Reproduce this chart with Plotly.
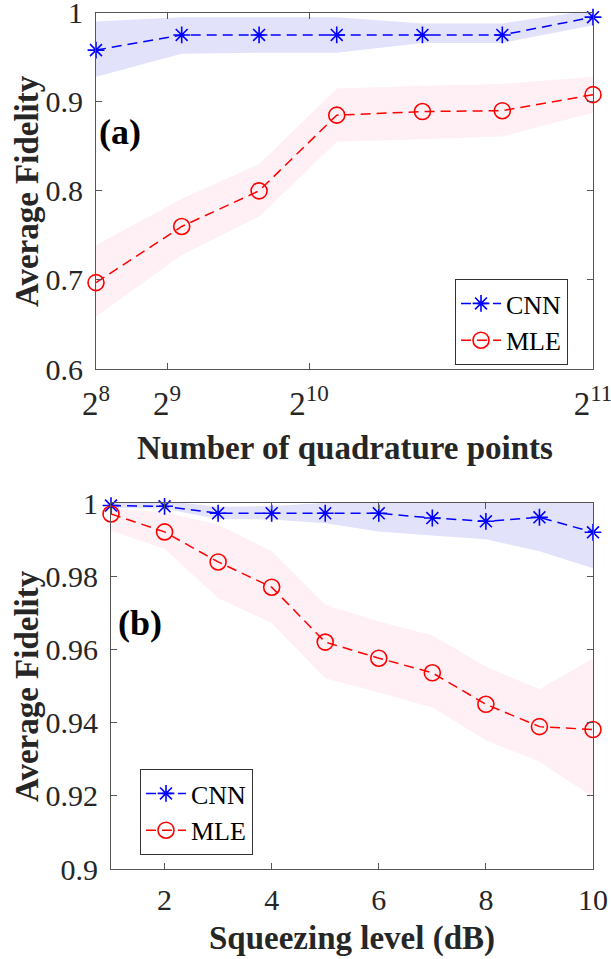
import plotly.graph_objects as go

# ---------------- data ----------------
# panel (a)
quad_points = [256, 565, 844, 1124, 1433, 1721, 2048]
cnn_a = [0.958, 0.975, 0.975, 0.975, 0.975, 0.975, 0.995]
cnn_a_upper = [0.990, 0.995, 0.995, 0.995, 0.988, 0.988, 1.003]
cnn_a_lower = [0.928, 0.954, 0.955, 0.955, 0.966, 0.966, 0.986]
mle_a = [0.697, 0.760, 0.800, 0.885, 0.889, 0.890, 0.908]
mle_a_upper = [0.739, 0.791, 0.830, 0.915, 0.918, 0.920, 0.928]
mle_a_lower = [0.659, 0.728, 0.771, 0.855, 0.858, 0.861, 0.888]

# panel (b)
squeeze_db = [1, 2, 3, 4, 5, 6, 7, 8, 9, 10]
cnn_b = [0.9993, 0.9991, 0.9972, 0.9972, 0.9972, 0.9972, 0.9959, 0.9950, 0.9961, 0.9920]
cnn_b_upper = [1.0005, 1.0005, 0.9990, 0.9992, 1.0000, 1.0005, 1.0005, 1.0005, 1.0010, 1.0020]
cnn_b_lower = [0.9986, 0.9984, 0.9956, 0.9955, 0.9945, 0.9922, 0.9911, 0.9901, 0.9868, 0.9822]
mle_b = [0.9970, 0.9921, 0.9839, 0.9770, 0.9620, 0.9576, 0.9536, 0.9450, 0.9389, 0.9381]
mle_b_upper = [0.9986, 0.9974, 0.9941, 0.9868, 0.9722, 0.9676, 0.9638, 0.9553, 0.9491, 0.9576]
mle_b_lower = [0.9924, 0.9875, 0.9740, 0.9672, 0.9521, 0.9482, 0.9441, 0.9352, 0.9293, 0.9197]

xticks_a = [256, 512, 1024, 2048]
xticklabels_a = ["2<sup>8</sup>", "2<sup>9</sup>", "2<sup>10</sup>", "2<sup>11</sup>"]
yticks_a = [0.6, 0.7, 0.8, 0.9, 1.0]
yticklabels_a = ["0.6", "0.7", "0.8", "0.9", "1"]
xticks_b = [2, 4, 6, 8, 10]
yticks_b = [0.9, 0.92, 0.94, 0.96, 0.98, 1.0]
yticklabels_b = ["0.9", "0.92", "0.94", "0.96", "0.98", "1"]

# ---------------- styling ----------------
W, H = 611, 959
FONT = "'Times New Roman', 'Liberation Serif', Tinos, serif"
BLUE = "rgb(0,0,255)"
RED = "rgb(255,0,0)"
BAND_BLUE = "rgb(226,226,251)"
BAND_RED = "rgb(254,240,245)"
AX = "#555555"

fig = go.Figure()


def band(x, lo, hi, color, xa, ya):
    fig.add_trace(go.Scatter(
        x=list(x) + list(x)[::-1], y=list(hi) + list(lo)[::-1],
        fill="toself", fillcolor=color, mode="none",
        showlegend=False, hoverinfo="skip", xaxis=xa, yaxis=ya))


def series(x, y, name, color, symbol, size, xa, ya, legend):
    fig.add_trace(go.Scatter(
        x=x, y=y, name=name, mode="lines+markers",
        line=dict(color=color, width=1.5, dash="10px,6px"),
        marker=dict(symbol=symbol, size=size, color=color,
                    line=dict(color=color, width=1.6)),
        cliponaxis=False, xaxis=xa, yaxis=ya, legend=legend))


band(quad_points, cnn_a_lower, cnn_a_upper, BAND_BLUE, "x", "y")
band(quad_points, mle_a_lower, mle_a_upper, BAND_RED, "x", "y")
series(quad_points, cnn_a, "CNN", BLUE, "asterisk-open", 14, "x", "y", "legend")
series(quad_points, mle_a, "MLE", RED, "circle-open", 16, "x", "y", "legend")

band(squeeze_db, cnn_b_lower, cnn_b_upper, BAND_BLUE, "x2", "y2")
band(squeeze_db, mle_b_lower, mle_b_upper, BAND_RED, "x2", "y2")
series(squeeze_db, cnn_b, "CNN", BLUE, "asterisk-open", 14, "x2", "y2", "legend2")
series(squeeze_db, mle_b, "MLE", RED, "circle-open", 16, "x2", "y2", "legend2")


def px(x):
    return x / W


def py(y):
    return 1 - y / H


axis_common = dict(showline=True, linecolor=AX, linewidth=1, mirror="ticks",
                   ticks="inside", ticklen=6, tickcolor=AX, tickwidth=1,
                   showgrid=False, zeroline=False, automargin=False,
                   ticklabeloverflow="allow")
tickfont = dict(family=FONT, size=30, color="#262626")

fig.update_layout(
    width=W, height=H, autosize=False,
    margin=dict(l=0, r=0, t=0, b=0, pad=0, autoexpand=False),
    paper_bgcolor="white", plot_bgcolor="white",
    font=dict(family=FONT, color="#262626"),
    xaxis=dict(domain=[px(96), px(593)], range=[256, 2048], anchor="y",
               tickvals=xticks_a, ticktext=xticklabels_a, ticklabelstandoff=5,
               tickfont=dict(family=FONT, size=33, color="#262626"), **axis_common),
    yaxis=dict(domain=[py(369), py(12.7)], range=[0.6, 1.0], anchor="x",
               tickvals=yticks_a, ticktext=yticklabels_a, ticklabelstandoff=6,
               tickfont=tickfont, **axis_common),
    xaxis2=dict(domain=[px(111), px(593)], range=[1, 10], anchor="y2",
                tickvals=xticks_b, ticklabelstandoff=4, tickfont=tickfont, **axis_common),
    yaxis2=dict(domain=[py(869), py(503)], range=[0.9, 1.0], anchor="x2",
                tickvals=yticks_b, ticktext=yticklabels_b, ticklabelstandoff=6,
                tickfont=tickfont, **axis_common),
    legend=dict(x=px(568), y=py(279), xanchor="right", yanchor="top",
                bordercolor="#333333", borderwidth=1, bgcolor="white",
                font=dict(family=FONT, size=26, color="black"),
                tracegroupgap=0, itemwidth=40),
    legend2=dict(x=px(140), y=py(769), xanchor="left", yanchor="top",
                 bordercolor="#333333", borderwidth=1, bgcolor="white",
                 font=dict(family=FONT, size=26, color="black"),
                 tracegroupgap=0, itemwidth=40),
    showlegend=True,
)

ann = []
title_font = dict(family=FONT, size=33, color="#262626")
ann.append(dict(text="<b>Average Fidelity</b>", x=px(27), y=py(191), xref="paper", yref="paper",
                textangle=-90, showarrow=False, font=title_font, xanchor="center", yanchor="middle"))
ann.append(dict(text="<b>Average Fidelity</b>", x=px(27), y=py(686), xref="paper", yref="paper",
                textangle=-90, showarrow=False, font=title_font, xanchor="center", yanchor="middle"))
ann.append(dict(text="<b>Number of quadrature points</b>", x=px(344.5), y=py(448), xref="paper",
                yref="paper", showarrow=False, font=title_font, xanchor="center", yanchor="middle"))
ann.append(dict(text="<b>Squeezing level (dB)</b>", x=px(352), y=py(938), xref="paper",
                yref="paper", showarrow=False, font=title_font, xanchor="center", yanchor="middle"))
ann.append(dict(text="<b>(a)</b>", x=px(97), y=py(132), xref="paper", yref="paper",
                showarrow=False, font=dict(family=FONT, size=36, color="black"),
                xanchor="left", yanchor="middle"))
ann.append(dict(text="<b>(b)</b>", x=px(116), y=py(623), xref="paper", yref="paper",
                showarrow=False, font=dict(family=FONT, size=36, color="black"),
                xanchor="left", yanchor="middle"))
fig.update_layout(annotations=ann)

fig.write_html("out.html", config={"responsive": False})
